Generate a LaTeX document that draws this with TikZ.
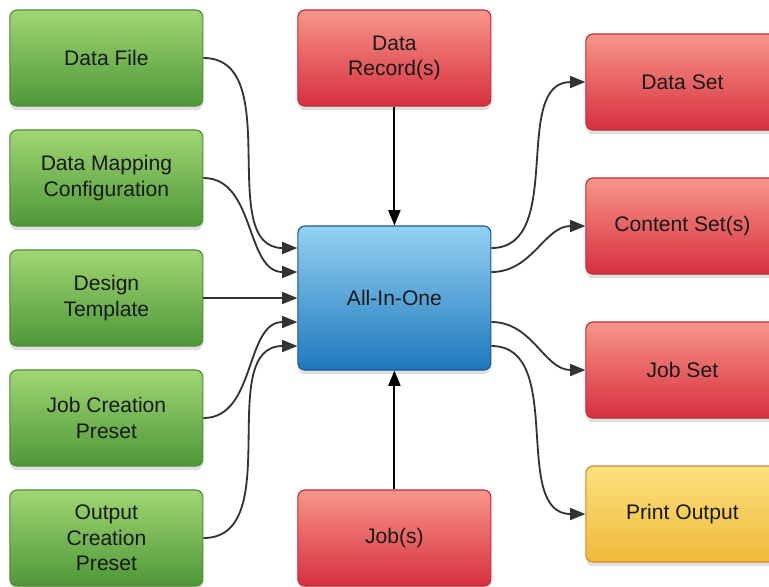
\documentclass[tikz,border=0pt]{standalone}
\usepackage{fontspec}
\setmainfont{Liberation Sans}
\usetikzlibrary{arrows.meta,shadows}

\definecolor{greentop}{HTML}{A0D672}
\definecolor{greenbot}{HTML}{4E9738}
\definecolor{greenline}{HTML}{4F8A3A}
\definecolor{redtop}{HTML}{F8958A}
\definecolor{redbot}{HTML}{D6303E}
\definecolor{redline}{HTML}{BE2B3A}
\definecolor{bluetop}{HTML}{94D0F2}
\definecolor{bluebot}{HTML}{1E78BD}
\definecolor{blueline}{HTML}{1D568C}
\definecolor{yellowtop}{HTML}{FBE17E}
\definecolor{yellowbot}{HTML}{F0B93A}
\definecolor{yellowline}{HTML}{D9862E}
\definecolor{wire}{HTML}{333333}

\tikzset{
  box/.style={rectangle, rounded corners=5pt, minimum width=4.825cm, minimum height=2.4cm,
    inner sep=0pt, align=center, line width=0.8pt, text=black!90,
    font=\fontsize{15}{18}\selectfont,
    drop shadow={shadow xshift=0pt, shadow yshift=-3pt, opacity=0.25}},
  inbox/.style={box, draw=greenline, top color=greentop, bottom color=greenbot},
  outbox/.style={box, draw=redline, top color=redtop, bottom color=redbot},
  printbox/.style={box, draw=yellowline, top color=yellowtop, bottom color=yellowbot},
  mainbox/.style={box, minimum height=3.6cm, draw=blueline, top color=bluetop, bottom color=bluebot},
  wire/.style={draw=wire, line width=1.3pt, -{Triangle[length=0.38cm,width=0.3cm]}}
}

\begin{document}
\begin{tikzpicture}
\clip (0,0) rectangle (19.225,-14.65);

\node[inbox](1) at (2.66,-1.45) {Data File};
\node[inbox](2) at (2.66,-4.45) {Data Mapping\\Configuration};
\node[inbox](3) at (2.66,-7.45) {Design\\Template};
\node[inbox](4) at (2.66,-10.45) {Job Creation\\Preset};
\node[inbox](5) at (2.66,-13.45) {Output\\Creation\\Preset};

\node[outbox](6) at (9.86,-1.45) {Data\\Record(s)};
\node[mainbox](0) at (9.86,-7.45) {All-In-One};
\node[outbox](7) at (9.86,-13.45) {Job(s)};

\node[outbox](1o) at (17.06,-2.05) {Data Set};
\node[outbox](2o) at (17.06,-5.65) {Content Set(s)};
\node[outbox](3o) at (17.06,-9.25) {Job Set};
\node[printbox](4o) at (17.06,-12.85) {Print Output};

\draw[wire] (1.east) to[out=0,in=180] ([yshift=1.25cm]0.west);
\draw[wire] (2.east) to[out=0,in=180] ([yshift=0.65cm]0.west);
\draw[wire] (3.east) -- (0.west);
\draw[wire] (4.east) to[out=0,in=180] ([yshift=-0.6cm]0.west);
\draw[wire] (5.east) to[out=0,in=180] ([yshift=-1.2cm]0.west);

\draw[wire,draw=black] (6.south) -- (0.north);
\draw[wire,draw=black] (7.north) -- (0.south);

\draw[wire] ([yshift=1.25cm]0.east) to[out=0,in=180] (1o.west);
\draw[wire] ([yshift=0.65cm]0.east) to[out=0,in=180] (2o.west);
\draw[wire] ([yshift=-0.6cm]0.east) to[out=0,in=180] (3o.west);
\draw[wire] ([yshift=-1.2cm]0.east) to[out=0,in=180] (4o.west);

\end{tikzpicture}
\end{document}
